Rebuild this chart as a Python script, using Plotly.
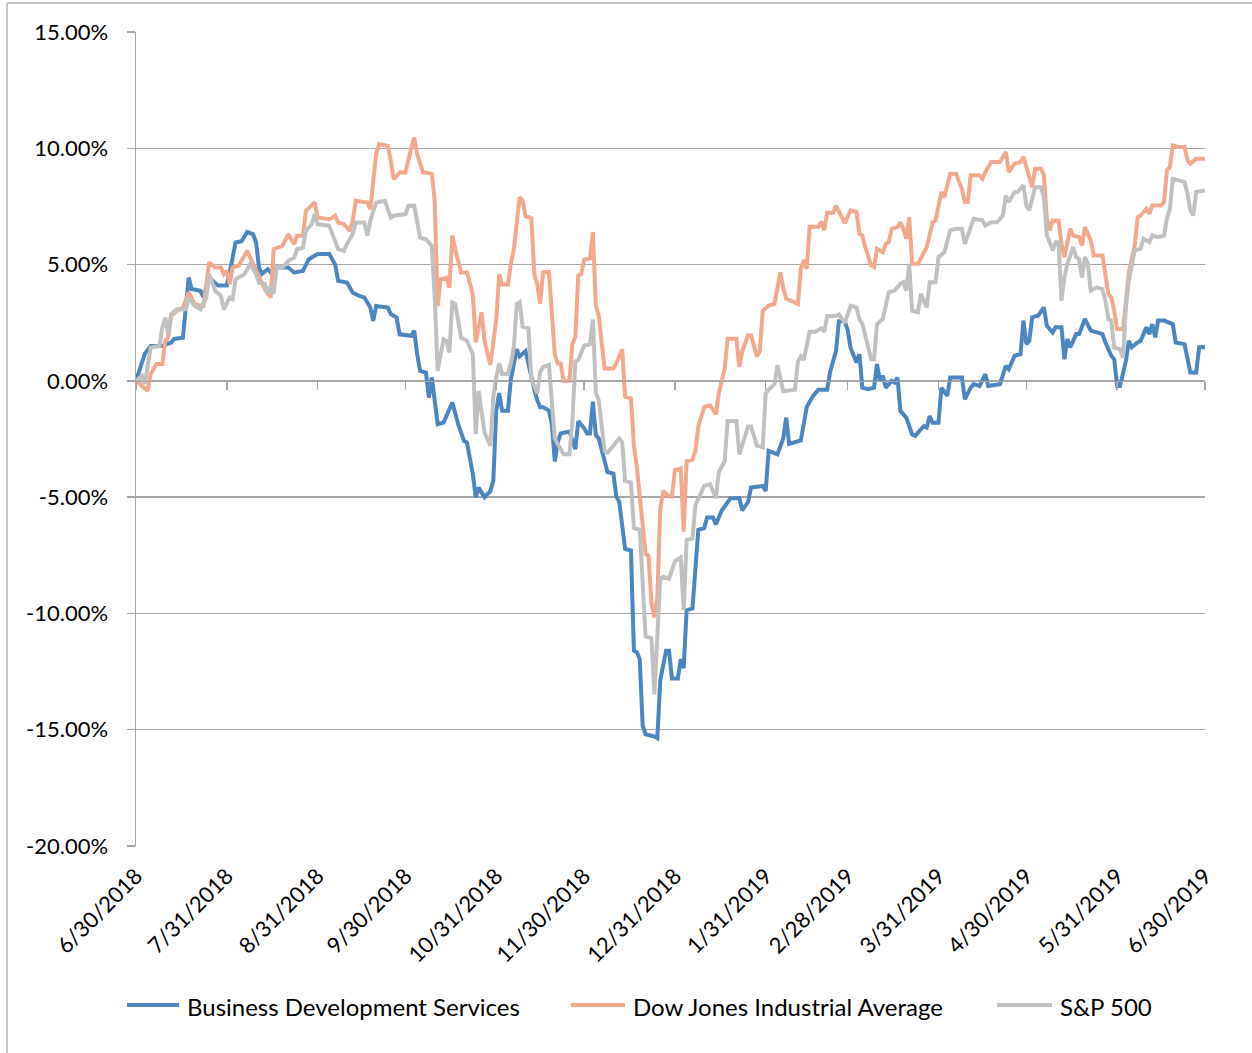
import plotly.graph_objects as go

# ---------------- data (cumulative return, %) ----------------
bds_dates = ["2018-06-30","2018-07-03","2018-07-05","2018-07-09","2018-07-12","2018-07-13","2018-07-16","2018-07-18","2018-07-19","2018-07-22","2018-07-23","2018-07-25","2018-07-28","2018-07-31",
"2018-08-02","2018-08-03","2018-08-05","2018-08-07","2018-08-09","2018-08-10","2018-08-11","2018-08-12","2018-08-14","2018-08-15","2018-08-17","2018-08-21","2018-08-23","2018-08-26","2018-08-28","2018-08-31",
"2018-09-04","2018-09-06","2018-09-07","2018-09-10","2018-09-12","2018-09-14","2018-09-16","2018-09-18","2018-09-19","2018-09-20","2018-09-24","2018-09-25","2018-09-27","2018-09-28",
"2018-10-02","2018-10-03","2018-10-04","2018-10-05","2018-10-07","2018-10-08","2018-10-09","2018-10-10","2018-10-11","2018-10-13","2018-10-16","2018-10-18","2018-10-20","2018-10-21","2018-10-23","2018-10-24","2018-10-25","2018-10-27","2018-10-29","2018-10-30","2018-10-31",
"2018-11-01","2018-11-02","2018-11-04","2018-11-05","2018-11-07","2018-11-08","2018-11-10","2018-11-12","2018-11-13","2018-11-14","2018-11-15","2018-11-16","2018-11-18","2018-11-19","2018-11-20","2018-11-21","2018-11-22","2018-11-25","2018-11-26","2018-11-27","2018-11-28","2018-11-30",
"2018-12-01","2018-12-02","2018-12-03","2018-12-04","2018-12-05","2018-12-07","2018-12-08","2018-12-10","2018-12-11","2018-12-12","2018-12-13","2018-12-14","2018-12-16","2018-12-17","2018-12-18","2018-12-19","2018-12-20","2018-12-21","2018-12-24","2018-12-25","2018-12-26","2018-12-28","2018-12-29","2018-12-30",
"2019-01-01","2019-01-02","2019-01-03","2019-01-04","2019-01-06","2019-01-08","2019-01-10","2019-01-11","2019-01-13","2019-01-14","2019-01-16","2019-01-19","2019-01-22","2019-01-23","2019-01-25","2019-01-26","2019-01-30","2019-01-31",
"2019-02-01","2019-02-04","2019-02-06","2019-02-07","2019-02-08","2019-02-10","2019-02-12","2019-02-14","2019-02-16","2019-02-18","2019-02-21","2019-02-22","2019-02-24","2019-02-25","2019-02-27","2019-02-28",
"2019-03-01","2019-03-03","2019-03-04","2019-03-05","2019-03-07","2019-03-09","2019-03-10","2019-03-11","2019-03-12","2019-03-13","2019-03-15","2019-03-16","2019-03-17","2019-03-18","2019-03-20","2019-03-22","2019-03-23","2019-03-26","2019-03-27","2019-03-28","2019-03-29","2019-03-31",
"2019-04-01","2019-04-03","2019-04-04","2019-04-08","2019-04-09","2019-04-11","2019-04-12","2019-04-14","2019-04-16","2019-04-17","2019-04-21","2019-04-23","2019-04-24","2019-04-26","2019-04-28","2019-04-29","2019-04-30",
"2019-05-01","2019-05-02","2019-05-04","2019-05-06","2019-05-07","2019-05-09","2019-05-10","2019-05-12","2019-05-13","2019-05-14","2019-05-15","2019-05-17","2019-05-18","2019-05-20","2019-05-22","2019-05-26","2019-05-27","2019-05-29","2019-05-30","2019-05-31",
"2019-06-01","2019-06-03","2019-06-04","2019-06-05","2019-06-07","2019-06-08","2019-06-10","2019-06-11","2019-06-12","2019-06-13","2019-06-14","2019-06-16","2019-06-19","2019-06-20","2019-06-23","2019-06-24","2019-06-25","2019-06-27","2019-06-28","2019-06-30"]
bds_values = [0,1.16,1.5,1.5,1.65,1.8,1.85,4.44,3.95,3.87,3.6,4.44,4.1,4.1,
5.3,5.95,6.0,6.4,6.3,5.95,4.87,4.6,4.8,4.66,4.87,4.87,4.66,4.73,5.23,5.45,
5.45,5.0,4.3,4.23,3.8,3.66,3.58,3.15,2.58,3.22,3.15,2.87,2.72,2.0,
1.94,2.15,1.15,0.43,0.36,-0.72,0.14,-0.72,-1.86,-1.79,-0.93,-1.86,-2.58,-2.65,-4.0,-5.0,-4.59,-5.0,-4.74,-4.29,-1.28,
-0.53,-1.28,-1.28,0.08,1.36,1.05,1.28,0.08,-0.38,-0.83,-1.13,-1.13,-1.28,-1.88,-3.46,-2.64,-2.26,-2.18,-2.64,-2.94,-1.73,-2.03,
-2.26,-2.26,-0.9,-2.33,-2.48,-3.46,-3.92,-3.99,-4.97,-5.2,-6.4,-7.23,-7.3,-11.6,-11.67,-11.97,-14.83,-15.2,-15.29,-15.36,-12.88,-11.6,-11.6,-12.8,
-12.8,-11.97,-12.35,-9.86,-9.79,-6.4,-6.33,-5.87,-5.87,-6.17,-5.57,-5.05,-5.05,-5.57,-5.2,-4.59,-4.52,-4.74,
-3.01,-3.16,-2.48,-1.58,-2.71,-2.64,-2.56,-1.13,-0.68,-0.38,-0.38,0.38,1.28,2.56,2.56,2.18,
1.4,0.79,1.15,-0.29,-0.36,-0.29,0.72,0,0.22,-0.29,0,-0.07,0.14,-1.29,-1.58,-2.3,-2.37,-1.94,-2.01,-1.51,-1.8,-1.8,
-0.29,-0.65,0.14,0.14,-0.79,-0.29,-0.14,-0.22,0.29,-0.22,-0.14,0.65,0.5,1.08,1.15,2.59,1.58,
1.72,2.73,2.8,3.16,2.37,2.08,2.3,2.3,0.93,1.8,1.44,2.01,2.01,2.66,2.16,2.01,1.65,1.08,0.93,-0.22,
-0.22,0.86,1.72,1.44,1.65,1.72,2.3,2.01,2.44,1.87,2.59,2.59,2.44,1.65,1.58,0.86,0.36,0.36,1.44,1.44]

dow_dates = ["2018-06-30","2018-07-04","2018-07-05","2018-07-07","2018-07-09","2018-07-10","2018-07-11","2018-07-12","2018-07-14","2018-07-16","2018-07-18","2018-07-20","2018-07-23","2018-07-25","2018-07-27","2018-07-29","2018-07-30","2018-07-31",
"2018-08-01","2018-08-02","2018-08-04","2018-08-07","2018-08-08","2018-08-11","2018-08-13","2018-08-15","2018-08-16","2018-08-19","2018-08-21","2018-08-23","2018-08-24","2018-08-26","2018-08-27","2018-08-30","2018-08-31",
"2018-09-04","2018-09-06","2018-09-07","2018-09-09","2018-09-11","2018-09-12","2018-09-13","2018-09-17","2018-09-18","2018-09-19","2018-09-20","2018-09-21","2018-09-24","2018-09-25","2018-09-26","2018-09-28","2018-09-30",
"2018-10-02","2018-10-03","2018-10-04","2018-10-06","2018-10-07","2018-10-09","2018-10-10","2018-10-11","2018-10-12","2018-10-14","2018-10-15","2018-10-16","2018-10-17","2018-10-19","2018-10-21","2018-10-23","2018-10-24","2018-10-26","2018-10-27","2018-10-29","2018-10-31",
"2018-11-01","2018-11-02","2018-11-04","2018-11-05","2018-11-06","2018-11-08","2018-11-09","2018-11-10","2018-11-12","2018-11-13","2018-11-14","2018-11-15","2018-11-16","2018-11-18","2018-11-20","2018-11-21","2018-11-22","2018-11-23","2018-11-25","2018-11-26","2018-11-27","2018-11-28","2018-11-29","2018-11-30",
"2018-12-02","2018-12-03","2018-12-04","2018-12-05","2018-12-07","2018-12-10","2018-12-11","2018-12-13","2018-12-14","2018-12-16","2018-12-17","2018-12-18","2018-12-21","2018-12-22","2018-12-23","2018-12-24","2018-12-25","2018-12-26","2018-12-27","2018-12-29","2018-12-30","2018-12-31",
"2019-01-02","2019-01-03","2019-01-04","2019-01-06","2019-01-07","2019-01-08","2019-01-10","2019-01-12","2019-01-14","2019-01-15","2019-01-17","2019-01-18","2019-01-21","2019-01-22","2019-01-23","2019-01-25","2019-01-26","2019-01-28","2019-01-29","2019-01-30",
"2019-02-01","2019-02-03","2019-02-05","2019-02-06","2019-02-07","2019-02-11","2019-02-12","2019-02-13","2019-02-14","2019-02-15","2019-02-18","2019-02-19","2019-02-20","2019-02-21","2019-02-23","2019-02-24","2019-02-25","2019-02-27",
"2019-03-01","2019-03-03","2019-03-04","2019-03-05","2019-03-06","2019-03-08","2019-03-09","2019-03-10","2019-03-12","2019-03-13","2019-03-14","2019-03-15","2019-03-17","2019-03-18","2019-03-19","2019-03-20","2019-03-21","2019-03-22","2019-03-24","2019-03-26","2019-03-27","2019-03-29","2019-03-30",
"2019-04-01","2019-04-02","2019-04-04","2019-04-06","2019-04-08","2019-04-09","2019-04-10","2019-04-11","2019-04-14","2019-04-15","2019-04-16","2019-04-18","2019-04-21","2019-04-22","2019-04-23","2019-04-24","2019-04-26","2019-04-28","2019-04-29","2019-04-30",
"2019-05-02","2019-05-03","2019-05-05","2019-05-06","2019-05-07","2019-05-08","2019-05-09","2019-05-11","2019-05-12","2019-05-13","2019-05-15","2019-05-16","2019-05-18","2019-05-19","2019-05-20","2019-05-22","2019-05-23","2019-05-26","2019-05-28","2019-05-29","2019-05-30","2019-05-31",
"2019-06-02","2019-06-03","2019-06-04","2019-06-06","2019-06-07","2019-06-08","2019-06-10","2019-06-11","2019-06-12","2019-06-15","2019-06-16","2019-06-17","2019-06-18","2019-06-19","2019-06-21","2019-06-23","2019-06-24","2019-06-25","2019-06-27","2019-06-30"]
dow_values = [0,-0.43,0.3,0.72,0.72,1.72,1.87,2.8,3.01,3.15,3.8,3.3,3.22,5.09,4.87,4.87,4.59,4.73,
4.16,4.87,4.95,5.59,5.3,4.44,3.94,3.58,5.66,5.8,6.3,5.88,6.24,6.24,7.31,7.67,7.02,
6.95,7.1,6.81,6.74,6.45,6.88,7.74,7.67,7.38,8.46,9.75,10.18,10.1,9.46,8.67,8.96,8.96,
10.03,10.46,9.75,8.96,8.96,8.89,7.74,3.22,4.37,4.44,4.01,6.24,5.66,4.66,4.66,3.73,1.65,2.94,1.72,0.68,2.64,
4.59,4.14,4.14,5.05,5.65,7.9,7.76,7.08,7.0,4.59,4.14,3.31,4.67,4.67,1.13,0.75,0.75,0,0,1.58,1.88,4.52,4.59,5.2,
5.27,6.4,3.24,2.79,0.53,0.53,0.75,1.36,-0.68,-0.75,-2.79,-3.69,-7.45,-7.53,-9.56,-10.17,-9.26,-5.5,-4.74,-4.97,-4.97,-3.84,
-3.77,-6.48,-3.46,-3.39,-3.01,-1.96,-1.13,-1.05,-1.43,-0.53,0.53,1.81,1.81,0.6,1.28,1.96,1.96,1.05,1.28,3.01,
3.24,3.31,4.67,3.99,3.54,3.31,4.82,5.2,4.82,6.63,6.63,6.85,6.48,7.23,7.23,7.53,7.3,6.78,
7.33,7.26,6.32,6.25,5.75,4.96,4.89,5.68,5.53,5.89,5.96,6.54,6.61,6.82,6.54,6.11,7.04,5.03,5.03,5.53,5.75,6.82,6.9,
8.12,7.9,8.91,8.91,8.26,7.69,7.69,8.84,8.84,8.69,8.98,9.41,9.41,9.63,9.84,8.98,9.34,9.41,9.63,9.2,
8.33,9.12,9.12,8.84,6.97,6.47,6.9,6.9,5.89,5.32,6.54,6.25,6.18,5.82,6.61,6.03,5.39,5.39,3.74,3.59,3.02,2.23,
2.23,3.38,4.67,5.82,7.04,7.11,7.4,7.18,7.54,7.54,7.69,9.05,9.2,10.13,10.06,10.06,9.48,9.34,9.55,9.55]

sp_dates = ["2018-06-30","2018-07-02","2018-07-03","2018-07-05","2018-07-08","2018-07-09","2018-07-10","2018-07-11","2018-07-12","2018-07-14","2018-07-17","2018-07-18","2018-07-20","2018-07-22","2018-07-24","2018-07-25","2018-07-27","2018-07-29","2018-07-30",
"2018-08-01","2018-08-02","2018-08-03","2018-08-06","2018-08-08","2018-08-10","2018-08-11","2018-08-13","2018-08-14","2018-08-15","2018-08-16","2018-08-17","2018-08-19","2018-08-21","2018-08-23","2018-08-24","2018-08-26","2018-08-27","2018-08-29","2018-08-30","2018-08-31",
"2018-09-04","2018-09-05","2018-09-07","2018-09-09","2018-09-10","2018-09-12","2018-09-13","2018-09-16","2018-09-17","2018-09-18","2018-09-20","2018-09-23","2018-09-25","2018-09-26","2018-09-29","2018-09-30",
"2018-10-01","2018-10-03","2018-10-05","2018-10-07","2018-10-09","2018-10-10","2018-10-11","2018-10-13","2018-10-14","2018-10-15","2018-10-16","2018-10-17","2018-10-19","2018-10-21","2018-10-23","2018-10-24","2018-10-25","2018-10-27","2018-10-29","2018-10-30","2018-10-31",
"2018-11-01","2018-11-02","2018-11-04","2018-11-05","2018-11-06","2018-11-07","2018-11-08","2018-11-09","2018-11-11","2018-11-12","2018-11-14","2018-11-15","2018-11-16","2018-11-18","2018-11-19","2018-11-20","2018-11-21","2018-11-23","2018-11-25","2018-11-26","2018-11-27","2018-11-28","2018-11-30",
"2018-12-02","2018-12-03","2018-12-04","2018-12-05","2018-12-07","2018-12-08","2018-12-10","2018-12-12","2018-12-13","2018-12-14","2018-12-16","2018-12-17","2018-12-19","2018-12-21","2018-12-23","2018-12-24","2018-12-26","2018-12-27","2018-12-29","2018-12-31",
"2019-01-02","2019-01-03","2019-01-04","2019-01-06","2019-01-07","2019-01-10","2019-01-12","2019-01-14","2019-01-15","2019-01-17","2019-01-18","2019-01-21","2019-01-22","2019-01-25","2019-01-26","2019-01-28","2019-01-30","2019-01-31",
"2019-02-01","2019-02-03","2019-02-04","2019-02-06","2019-02-10","2019-02-11","2019-02-12","2019-02-13","2019-02-15","2019-02-17","2019-02-19","2019-02-20","2019-02-21","2019-02-24","2019-02-25","2019-02-27",
"2019-03-01","2019-03-03","2019-03-04","2019-03-05","2019-03-07","2019-03-08","2019-03-09","2019-03-10","2019-03-12","2019-03-13","2019-03-14","2019-03-16","2019-03-18","2019-03-19","2019-03-20","2019-03-21","2019-03-22","2019-03-24","2019-03-25","2019-03-27","2019-03-28","2019-03-30","2019-03-31",
"2019-04-02","2019-04-04","2019-04-06","2019-04-08","2019-04-09","2019-04-10","2019-04-12","2019-04-15","2019-04-16","2019-04-18","2019-04-20","2019-04-22","2019-04-23","2019-04-24","2019-04-26","2019-04-27","2019-04-29","2019-04-30",
"2019-05-01","2019-05-03","2019-05-05","2019-05-06","2019-05-07","2019-05-08","2019-05-09","2019-05-10","2019-05-11","2019-05-12","2019-05-13","2019-05-14","2019-05-16","2019-05-17","2019-05-18","2019-05-19","2019-05-20","2019-05-21","2019-05-22","2019-05-24","2019-05-26","2019-05-27","2019-05-28","2019-05-29","2019-05-30",
"2019-06-01","2019-06-02","2019-06-03","2019-06-04","2019-06-06","2019-06-08","2019-06-09","2019-06-11","2019-06-12","2019-06-14","2019-06-16","2019-06-17","2019-06-18","2019-06-19","2019-06-21","2019-06-23","2019-06-24","2019-06-25","2019-06-26","2019-06-27","2019-06-30"]
sp_values = [0,0.22,-0.14,1.43,1.5,2.29,2.72,2.0,2.87,3.08,3.08,3.58,3.22,3.08,3.58,4.59,3.87,3.66,3.08,
3.58,3.51,4.37,4.59,5.02,4.59,4.23,4.16,3.73,4.09,3.73,4.87,4.87,5.16,5.3,5.66,5.73,6.45,6.74,7.17,6.74,
6.67,6.31,5.66,5.59,5.88,6.31,6.81,6.81,6.24,6.88,7.67,7.74,7.02,7.1,7.17,7.17,
7.53,7.53,6.16,6.09,5.8,3.58,0.43,1.79,1.72,1.22,3.37,3.3,1.86,1.72,1.15,-2.29,-0.43,-2.22,-2.79,-0.68,0.15,
0.75,0.3,0.3,0.75,1.43,3.31,3.39,2.33,2.26,0.08,-0.53,0.38,0.6,0.68,-0.98,-2.48,-2.71,-3.16,-3.16,-1.73,0.83,0.9,1.51,
1.58,2.64,-0.53,-0.83,-3.01,-3.09,-2.79,-2.48,-2.64,-4.29,-4.37,-6.33,-6.4,-10.99,-11.07,-13.48,-8.51,-8.43,-8.51,-7.76,
-7.6,-9.86,-6.85,-6.78,-5.35,-4.52,-4.44,-5.05,-3.92,-3.46,-1.73,-1.73,-3.16,-1.96,-1.96,-2.79,-2.86,-0.53,
-0.38,-0.15,0.68,-0.45,-0.38,0.83,1.05,0.9,2.11,2.11,2.26,2.11,2.79,2.79,2.86,2.48,
3.23,3.16,2.66,2.44,1.44,0.93,0.93,2.44,2.66,3.3,3.81,3.88,4.17,4.24,3.88,5.03,3.02,2.95,3.74,3.16,4.24,4.24,5.32,
5.53,6.47,6.54,6.54,5.89,6.25,6.97,6.9,6.68,6.82,6.82,7.11,7.97,7.69,8.12,8.12,8.41,7.54,
7.33,8.33,8.33,7.9,6.25,5.96,5.6,5.96,5.96,3.45,4.45,5.03,5.75,5.32,5.24,4.45,5.32,5.03,3.88,4.02,3.95,3.45,2.66,2.59,1.44,
1.36,1.0,3.16,4.31,5.6,5.68,6.11,5.96,6.25,6.18,6.25,6.97,7.4,8.69,8.62,8.55,8.05,7.33,7.11,8.12,8.19]

series_names = ["Business Development Services", "Dow Jones Industrial Average", "S&P 500"]
series_colors = ["#4A86BF", "#F2A88B", "#C0C0C0"]

x_tick_dates = ["2018-06-30","2018-07-31","2018-08-31","2018-09-30","2018-10-31","2018-11-30","2018-12-31",
                "2019-01-31","2019-02-28","2019-03-31","2019-04-30","2019-05-31","2019-06-30"]
x_tick_labels = ["6/30/2018","7/31/2018","8/31/2018","9/30/2018","10/31/2018","11/30/2018","12/31/2018",
                 "1/31/2019","2/28/2019","3/31/2019","4/30/2019","5/31/2019","6/30/2019"]
y_tick_values = [-0.20, -0.15, -0.10, -0.05, 0.0, 0.05, 0.10, 0.15]
y_tick_labels = ["-20.00%", "-15.00%", "-10.00%", "-5.00%", "0.00%", "5.00%", "10.00%", "15.00%"]

# ---------------- figure ----------------
FONT = "Lato, 'Open Sans', sans-serif"
GRID = "#A6A6A6"

W, H = 1252, 1053
ml, mr, mt, mb = 136, 47, 32, 207
pw, ph = W - ml - mr, H - mt - mb

def px_x(x):
    return (x - ml) / pw

def px_y(y):
    return (H - mb - y) / ph

fig = go.Figure()
all_series = [(bds_dates, bds_values), (dow_dates, dow_values), (sp_dates, sp_values)]
for (d, v), name, col in zip(all_series, series_names, series_colors):
    fig.add_trace(go.Scatter(
        x=d, y=[val / 100 for val in v], mode="lines", name=name, showlegend=False,
        line=dict(color=col, width=4), hoverinfo="skip"))

# helper trace so the zero-line date axis (x2) is rendered
fig.add_trace(go.Scatter(x=[x_tick_dates[0], x_tick_dates[-1]], y=[None, None],
                         xaxis="x2", mode="lines", showlegend=False, hoverinfo="skip"))

# legend (drawn as sample lines + labels to match the original spacing)
legend_sample_x = [(127, 179), (571, 625), (997, 1052)]
legend_text_x = [185, 631, 1058]
legend_y = 1005
shapes = []
annotations = []
for (x0, x1), tx, name, col in zip(legend_sample_x, legend_text_x, series_names, series_colors):
    shapes.append(dict(type="line", xref="paper", yref="paper", x0=px_x(x0), x1=px_x(x1),
                       y0=px_y(legend_y), y1=px_y(legend_y), line=dict(color=col, width=4)))
    annotations.append(dict(xref="paper", yref="paper", x=px_x(tx), y=px_y(legend_y + 1),
                            text=name, showarrow=False, xanchor="left", yanchor="middle",
                            font=dict(family=FONT, size=24, color="#000000")))

# outer chart border (top and left edges visible)
shapes.append(dict(type="line", xref="paper", yref="paper", x0=px_x(7), x1=px_x(W), y0=px_y(3), y1=px_y(3),
                   line=dict(color="#B5B5B5", width=1.5)))
shapes.append(dict(type="line", xref="paper", yref="paper", x0=px_x(7), x1=px_x(7), y0=px_y(3), y1=px_y(H),
                   line=dict(color="#B5B5B5", width=1.5)))

fig.update_layout(
    width=W, height=H,
    margin=dict(l=ml, r=mr, t=mt, b=mb),
    paper_bgcolor="white", plot_bgcolor="white",
    font=dict(family=FONT, size=22, color="#000000"),
    showlegend=False,
    xaxis=dict(type="date", range=[x_tick_dates[0], x_tick_dates[-1]],
               tickvals=x_tick_dates, ticktext=x_tick_labels, tickangle=-45,
               showgrid=False, showline=False, zeroline=False, ticks="",
               ticklabelstandoff=12, tickfont=dict(size=22)),
    xaxis2=dict(type="date", range=[x_tick_dates[0], x_tick_dates[-1]], overlaying="x",
                anchor="free", position=20 / 35, side="bottom",
                tickvals=x_tick_dates, showticklabels=False, showgrid=False, zeroline=False,
                showline=True, linecolor=GRID, linewidth=1.5,
                ticks="outside", ticklen=8, tickcolor=GRID, tickwidth=1.5),
    yaxis=dict(range=[-0.20, 0.15], tickvals=y_tick_values, ticktext=y_tick_labels,
               showgrid=True, gridcolor=GRID, gridwidth=1.5, zeroline=False,
               showline=True, linecolor=GRID, linewidth=1.5,
               ticks="outside", ticklen=8, tickcolor=GRID, tickwidth=1.5,
               ticklabelstandoff=14, tickfont=dict(size=22)),
    shapes=shapes,
    annotations=annotations,
)

fig.write_html("out.html", config={"displayModeBar": False, "staticPlot": True},
               post_script="document.body.style.margin='0px';")
